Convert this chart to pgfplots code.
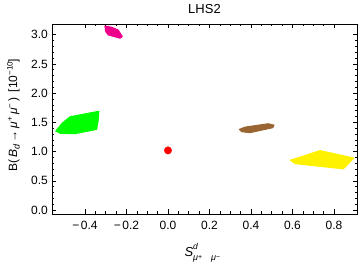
\documentclass[border=0pt]{standalone}
\usepackage{pgfplots}
\pgfplotsset{compat=1.18}
\usepackage{fontspec}
\setmainfont{Liberation Sans}
\definecolor{mbrown}{rgb}{0.6,0.4,0.2}
\newcommand{\fs}[1]{\fontsize{#1}{#1}\selectfont}
\begin{document}
\fontsize{12}{14}\selectfont
\begin{tikzpicture}
\path[use as bounding box] (-52pt,-51pt) rectangle (308pt,214pt);
\begin{axis}[
  at={(0pt,0pt)}, anchor=south west,
  width=305pt, height=190pt, scale only axis,
  font=\fontsize{12}{14}\selectfont,
  xmin=-0.559, xmax=0.911, ymin=-0.068, ymax=3.182,
  xtick={-0.4,-0.2,0,0.2,0.4,0.6,0.8},
  xticklabels={−\kern1.5pt0.4,−\kern1.5pt0.2,0.0,0.2,0.4,0.6,0.8},
  ytick={0,0.5,1,1.5,2,2.5,3},
  yticklabels={0.0,0.5,1.0,1.5,2.0,2.5,3.0},
  minor x tick num=3, minor y tick num=4,
  tick align=inside, tick pos=both,
  major tick length=4.5pt, minor tick length=2.5pt,
  tick style={black, line width=0.5pt},
  axis line style={line width=0.6pt},
  xticklabel style={yshift=-3pt},
  title={LHS2},
  title style={at={(0.5,1)}, anchor=base, yshift=4.7pt, font=\fontsize{13}{15}\selectfont},
  xlabel={\fs{13}\textit{S}\rlap{\raisebox{7.5pt}{\fs{8.5}\textit{d}}}\raisebox{-4pt}{\fs{9}\textit{μ}\raisebox{1.5pt}{\fs{7}+}\hspace{9pt}\textit{μ}\raisebox{1.5pt}{\fs{7}−}}},
  xlabel style={at={(axis description cs:0.493,0)}, anchor=base, yshift=-43pt},
  ylabel={B(\,\textit{B}\raisebox{-2.5pt}{\fs{9}\textit{d}}\,→\,\textit{μ}\raisebox{4.5pt}{\fs{8}+}\,\textit{μ}\raisebox{4.5pt}{\fs{8}−}\,)\, [10\raisebox{4.5pt}{\fs{8}−10}]},
  ylabel style={at={(axis description cs:-0.114,0.521)}, anchor=base},
]
\addplot[draw=green, fill=green, line width=1pt, line join=round] coordinates {
(-0.541,1.350) (-0.511,1.481) (-0.472,1.595) (-0.333,1.690) (-0.337,1.515) (-0.344,1.379) (-0.448,1.306) (-0.518,1.311)
} -- cycle;
\addplot[draw=magenta, fill=magenta, line width=1pt, line join=round] coordinates {
(-0.304,3.148) (-0.271,3.126) (-0.240,3.080) (-0.220,2.966) (-0.231,2.939) (-0.288,2.995) (-0.300,3.051)
} -- cycle;
\addplot[draw=mbrown, fill=mbrown, line width=1pt, line join=round] coordinates {
(0.344,1.379) (0.371,1.418) (0.483,1.476) (0.511,1.452) (0.505,1.408) (0.395,1.323) (0.355,1.340)
} -- cycle;
\addplot[draw=yellow, fill=yellow, line width=1pt, line join=round] coordinates {
(0.590,0.852) (0.733,1.017) (0.896,0.889) (0.845,0.704) (0.612,0.793)
} -- cycle;
\addplot[only marks, mark=*, mark size=3.7pt, red, mark options={draw=red, fill=red}] coordinates {(0,1.02)};
\end{axis}
\end{tikzpicture}
\end{document}
